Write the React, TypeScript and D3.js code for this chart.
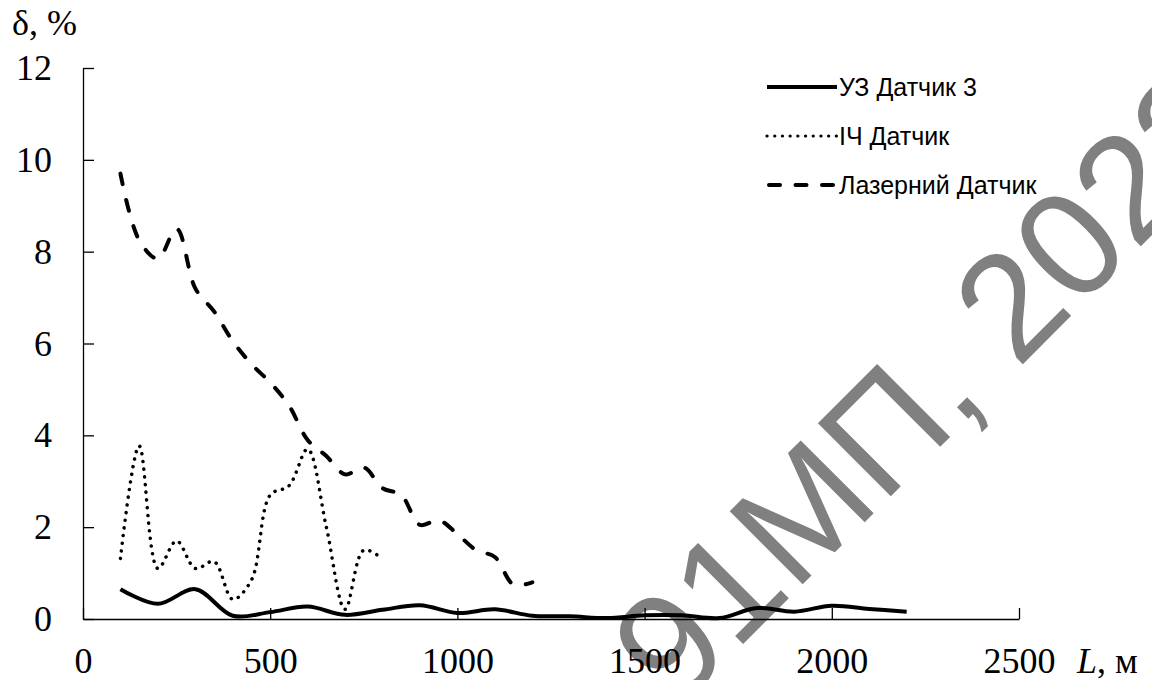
import React, { useEffect, useRef } from 'react';
import * as d3 from 'd3';

// УЗ Датчик 3 (solid)
const uzL = [100, 200, 300, 400, 500, 600, 700, 800, 900, 1000, 1100, 1200, 1300, 1400, 1500, 1600, 1700, 1800, 1900, 2000, 2100, 2200];
const uzDelta = [0.65, 0.33, 0.65, 0.07, 0.15, 0.27, 0.09, 0.2, 0.3, 0.13, 0.21, 0.07, 0.06, 0.02, 0.08, 0.08, 0.02, 0.24, 0.16, 0.29, 0.22, 0.16];

// ІЧ Датчик (dotted)
const irL = [100, 150, 200, 250, 300, 350, 400, 450, 500, 550, 600, 650, 700, 750, 800];
const irDelta = [1.32, 3.77, 1.1, 1.7, 1.1, 1.25, 0.43, 0.85, 2.7, 2.9, 3.7, 2.0, 0.21, 1.5, 1.31];

// Лазерний Датчик (dashed)
const laserL = [100, 150, 200, 250, 300, 350, 400, 450, 500, 550, 600, 650, 700, 750, 800, 850, 900, 950, 1000, 1050, 1100, 1150, 1200];
const laserDelta = [9.7, 8.25, 7.85, 8.5, 7.2, 6.7, 6.05, 5.55, 5.15, 4.65, 3.9, 3.55, 3.15, 3.3, 2.85, 2.7, 2.05, 2.15, 1.85, 1.5, 1.35, 0.75, 0.8];

const xTicks = [0, 500, 1000, 1500, 2000, 2500];
const yTicks = [0, 2, 4, 6, 8, 10, 12];
const seriesNames = ['УЗ Датчик 3', 'ІЧ Датчик', 'Лазерний Датчик'];
const watermark = '91МП, 2023';

const W = 1152;
const H = 680;

export default function App() {
  const ref = useRef<SVGSVGElement>(null);

  useEffect(() => {
    const svg = d3.select(ref.current);
    svg.selectAll('*').remove();

    const serif = '"Liberation Serif", "Times New Roman", serif';
    const sans = '"Liberation Sans", Arial, sans-serif';

    const x = d3.scaleLinear().domain([0, 2500]).range([83, 1019]);
    const y = d3.scaleLinear().domain([0, 12]).range([619, 68]);

    // watermark behind everything
    svg.append('text')
      .attr('transform', 'translate(676,711) rotate(-45)')
      .attr('fill', '#808080')
      .attr('font-family', sans)
      .attr('font-size', 150)
      .text(watermark);

    const xAxis = svg.append('g')
      .attr('transform', `translate(0,${y(0)})`)
      .call(d3.axisBottom(x).tickValues(xTicks).tickSizeInner(-11).tickSizeOuter(0).tickPadding(28).tickFormat(d3.format('d')));
    const yAxis = svg.append('g')
      .attr('transform', `translate(${x(0)},0)`)
      .call(d3.axisLeft(y).tickValues(yTicks).tickSizeInner(-11).tickSizeOuter(0).tickPadding(31).tickFormat(d3.format('d')));

    [xAxis, yAxis].forEach(a => {
      a.attr('font-family', serif).attr('font-size', 36).style('color', '#000');
      a.selectAll('path, line').attr('stroke-width', 1.3);
    });

    const line = (xs: number[], ys: number[]) =>
      d3.line<number>()
        .x((_, i) => x(xs[i]))
        .y(d => y(d))
        .curve(d3.curveCatmullRom.alpha(0.5))(ys);

    svg.append('path')
      .attr('d', line(uzL, uzDelta))
      .attr('fill', 'none').attr('stroke', '#000').attr('stroke-width', 4);

    svg.append('path')
      .attr('d', line(irL, irDelta))
      .attr('fill', 'none').attr('stroke', '#000').attr('stroke-width', 3.5)
      .attr('stroke-linecap', 'round').attr('stroke-dasharray', '0.1,7.6');

    svg.append('path')
      .attr('d', line(laserL, laserDelta))
      .attr('fill', 'none').attr('stroke', '#000').attr('stroke-width', 4)
      .attr('stroke-linecap', 'round').attr('stroke-dasharray', '11,16');

    // legend
    const styles = [
      { w: 4, dash: null, cap: 'butt' },
      { w: 3.2, dash: '0.1,7.6', cap: 'round' },
      { w: 4, dash: '11,15.5', cap: 'round' },
    ];
    const legendY = d3.scalePoint<string>().domain(seriesNames).range([87, 185]);
    seriesNames.forEach((name, i) => {
      const ly = legendY(name)!;
      const s = styles[i];
      const l = svg.append('line')
        .attr('x1', i === 2 ? 769 : 767).attr('x2', i === 2 ? 835 : 837)
        .attr('y1', ly).attr('y2', ly)
        .attr('stroke', '#000').attr('stroke-width', s.w)
        .attr('stroke-linecap', s.cap);
      if (s.dash) l.attr('stroke-dasharray', s.dash);
      svg.append('text')
        .attr('x', 839).attr('y', ly).attr('dy', '0.36em')
        .attr('font-family', sans).attr('font-size', 25)
        .text(name);
    });

    // axis titles
    svg.append('text')
      .attr('x', 12).attr('y', 35)
      .attr('font-family', serif).attr('font-size', 36)
      .text('δ, %');

    const lt = svg.append('text')
      .attr('x', 1077).attr('y', 673)
      .attr('font-family', serif).attr('font-size', 36);
    lt.append('tspan').attr('font-style', 'italic').text('L');
    lt.append('tspan').text(', м');
  }, []);

  return (
    <svg
      ref={ref}
      width={W}
      height={H}
      style={{ position: 'absolute', left: 0, top: 0, background: '#fff' }}
    />
  );
}
